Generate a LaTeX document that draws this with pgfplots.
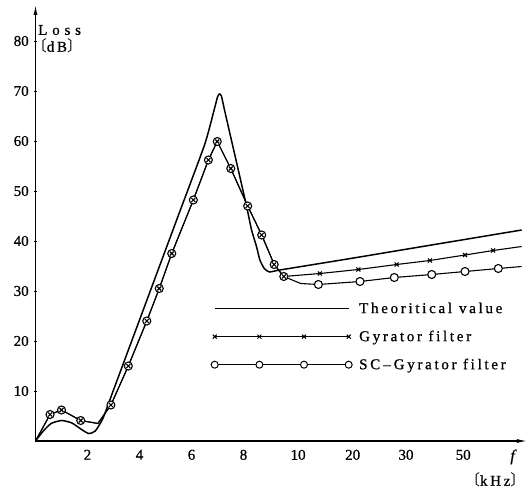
\documentclass[border=0pt]{standalone}
\usepackage{pgfplots}
\usepackage{pgfplotstable}
\pgfplotsset{compat=1.18}
\usetikzlibrary{arrows.meta}
\usepackage{fontspec}
\setmainfont{Liberation Serif}[FakeBold=0.8]
\newfontfamily\spaced[LetterSpace=18, FakeBold=0.8]{Liberation Serif}
\newfontfamily\wide[LetterSpace=32, FakeBold=0.8]{Liberation Serif}
\newfontfamily\cjk{Noto Sans CJK JP}

\pgfplotsset{
  longline/.style={legend image code/.code={\draw[##1] (0pt,0pt) -- (134pt,0pt);}},
  longmarks/.style={legend image code/.code={%
    \draw[##1] plot coordinates {(0pt,0pt) (44.7pt,0pt) (89.3pt,0pt) (134pt,0pt)};}},
}

% x positions: 0-10 linear (kHz), then 10,20,30,50 at equal steps
\pgfplotstableread{
x y
0 0
0.3 2.0
0.6 3.5
1.0 4.1
1.4 3.6
1.8 2.2
2.05 1.5
2.3 2.0
2.6 4.6
3.0 10.2
3.5 17.2
4.5 31.2
5.5 45.2
6.5 59.2
6.85 65.8
7.0 68.8
7.07 69.4
7.15 69.0
7.3 65.5
7.8 54.2
8.12 46.9
8.31 42.2
8.5 38.9
8.63 36.2
8.8 34.5
9.0 33.8
9.4 34.2
12 36.4
15 39.0
18.7 42.2
}\theo

\pgfplotstableread{
x y
0 0
0.56 5.3
1.0 6.2
1.74 4.1
2.4 3.5
2.9 7.2
3.57 15
4.28 24
4.76 30.5
5.24 37.5
6.07 48.2
6.65 56.2
6.99 59.9
7.51 54.5
8.16 47
8.7 41.2
9.18 35.3
9.55 32.9
10.94 33.5
12.42 34.3
13.89 35.3
15.17 36.1
16.52 37.2
17.6 38.1
18.7 38.9
}\gyr

\pgfplotstableread{
x y
0 0
0.56 5.3
1.0 6.2
1.74 4.1
2.4 3.5
2.9 7.2
3.57 15
4.28 24
4.76 30.5
5.24 37.5
6.07 48.2
6.65 56.2
6.99 59.9
7.51 54.5
8.16 47
8.7 41.2
9.18 35.3
9.55 32.9
10.2 31.5
10.88 31.3
12.48 31.9
13.8 32.7
15.24 33.3
16.52 33.9
17.8 34.5
18.7 34.9
}\scg

\begin{document}
\begin{tikzpicture}
\begin{axis}[
  x=26pt, y=5pt,
  xmin=0, xmax=18.9,
  ymin=0, ymax=87.2,
  axis lines=left,
  axis line style={line width=1.1pt, -{Latex[length=10pt,width=4pt]}},
  xtick={2,4,6,8,10.1,12.2,14.25,16.45},
  xticklabels={2,4,6,8,10,20,30,50},
  ytick={10,20,...,80},
  tick style={black, line width=0.6pt},
  major tick length=2.5pt,
  tick label style={font=\fontsize{15}{16}\selectfont},
  xticklabel style={yshift=-4pt},
  yticklabel style={xshift=-2pt},
  /pgf/number format/assume math mode=true,
  clip=false,
  legend cell align=left,
  legend style={draw=none, fill=none, at={(axis cs:6.75,28.1)}, anchor=north west,
    font=\spaced\fontsize{15}{16}\selectfont, row sep=12pt, inner sep=0pt,
    nodes={inner sep=2pt},
    /tikz/every odd column/.append style={column sep=5pt}},
]
\coordinate (O) at (axis cs:0,0);
\addplot[black, line width=1.5pt, smooth, tension=0.35, forget plot] table {\theo};
\addplot[black, line width=1.1pt, forget plot] table {\gyr};
\addplot[black, line width=1.1pt, forget plot] table {\scg};
\addplot[only marks, mark=*, mark size=4pt, mark options={fill=white, draw=black, line width=1.1pt},
  mark indices={2,3,4,6,7,8,9,10,11,12,13,14,15,16,17,18,20,21,22,23,24,25}, forget plot] table {\scg};
\addplot[only marks, mark=x, mark size=2.8pt, mark options={black, line width=1.1pt},
  mark indices={2,3,4,6,7,8,9,10,11,12,13,14,15,16,17,18,19,20,21,22,23,24}, forget plot] table {\gyr};

\addlegendimage{black, line width=1.5pt, longline}
\addlegendentry{Theoritical\hspace{7pt}value}
\addlegendimage{black, line width=1pt, mark=x, mark size=2.8pt, longmarks}
\addlegendentry{Gyrator filter}
\addlegendimage{black, line width=1pt, mark=*, mark size=3.5pt, mark options={fill=white}, longmarks}
\addlegendentry{SC\hspace{3pt}–\hspace{3pt}Gyrator filter}

\node[anchor=west, inner sep=0pt, font=\wide\fontsize{15}{16}\selectfont] at (axis cs:0.1,82.2) {Loss};
\node[anchor=west, inner sep=0pt, font=\spaced\fontsize{15}{16}\selectfont] at (axis cs:-0.15,79.0) {{\cjk 〔}dB{\cjk 〕}};
\node[inner sep=0pt, font=\itshape\fontsize{16}{17}\selectfont] at (axis cs:18.35,-3.2) {f};
\node[anchor=east, inner sep=0pt, font=\spaced\fontsize{15}{16}\selectfont] at (axis cs:18.85,-7.8) {{\cjk 〔}kHz{\cjk 〕}};
\end{axis}
\pgfresetboundingbox
\path[use as bounding box] ([shift={(-35.5pt,-50pt)}]O) rectangle ([shift={(492.5pt,441pt)}]O);
\end{tikzpicture}
\end{document}
